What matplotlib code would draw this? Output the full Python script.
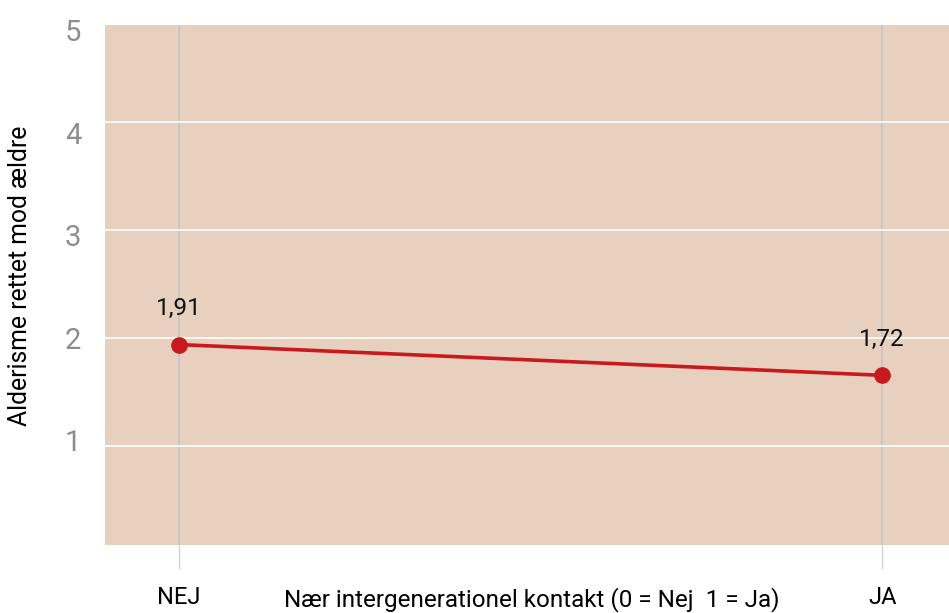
import matplotlib
matplotlib.use("Agg")
import matplotlib.pyplot as plt

plt.rcParams['font.family'] = ['Roboto', 'DejaVu Sans']

categories = ["NEJ", "JA"]
values = [1.935, 1.65]
value_labels = ["1,91", "1,72"]
grid_levels = [1, 2, 3, 4]
tick_levels = [1, 2, 3, 4, 5]
ylabel = "Alderisme rettet mod ældre"
xlabel = "Nær intergenerationel kontakt (0 = Nej  1 = Ja)"

W, H = 949, 613
fig = plt.figure(figsize=(W / 100, H / 100), dpi=100)
ax = fig.add_axes([105 / W, 1 - 545 / H, 844 / W, 520 / H])
ax.set_facecolor('#e8d0bf')
for s in ax.spines.values():
    s.set_visible(False)

x = list(range(len(categories)))
ax.set_xlim(-0.105, 1.095)
ax.set_ylim(0.079, 4.894)

ax.set_yticks(grid_levels)
ax.yaxis.grid(True, color='white', lw=1.2)
ax.tick_params(axis='y', length=0, labelleft=False)

ax.set_xticks(x)
ax.set_xticklabels(categories, fontsize=17, color='black')
ax.xaxis.grid(True, color='#c4c4c4', lw=1.2)
ax.tick_params(axis='x', length=17.5, width=0.9, color='#d0d0d0', pad=12)
ax.set_axisbelow(True)

ax.plot(x, values, color='#c8191e', lw=2.6, marker='o', markersize=11,
        solid_capstyle='round', zorder=3)
for xi, v, lab in zip(x, values, value_labels):
    ax.annotate(lab, (xi, v), xytext=(0, 26), textcoords='offset points',
                ha='center', va='center', fontsize=17.5, color='#111111')

# separate label scale on the left
ax2 = ax.twinx()
ax2.set_ylim(-0.024, 5.049)
ax2.set_yticks(tick_levels)
ax2.set_yticklabels([str(t) for t in tick_levels], fontsize=21, color='#8e8e8e')
ax2.yaxis.set_ticks_position('left')
ax2.yaxis.set_label_position('left')
ax2.tick_params(axis='y', length=0, pad=17)
for s in ax2.spines.values():
    s.set_visible(False)
ax2.set_ylabel(ylabel, fontsize=17.8, color='black')
ax2.yaxis.set_label_coords(-73 / 844, (545 - 276) / 520)

fig.text(532 / W, 1 - 600 / H, xlabel, ha='center', va='center', fontsize=17.5, color='black')

fig.savefig('out.png', dpi=100)
